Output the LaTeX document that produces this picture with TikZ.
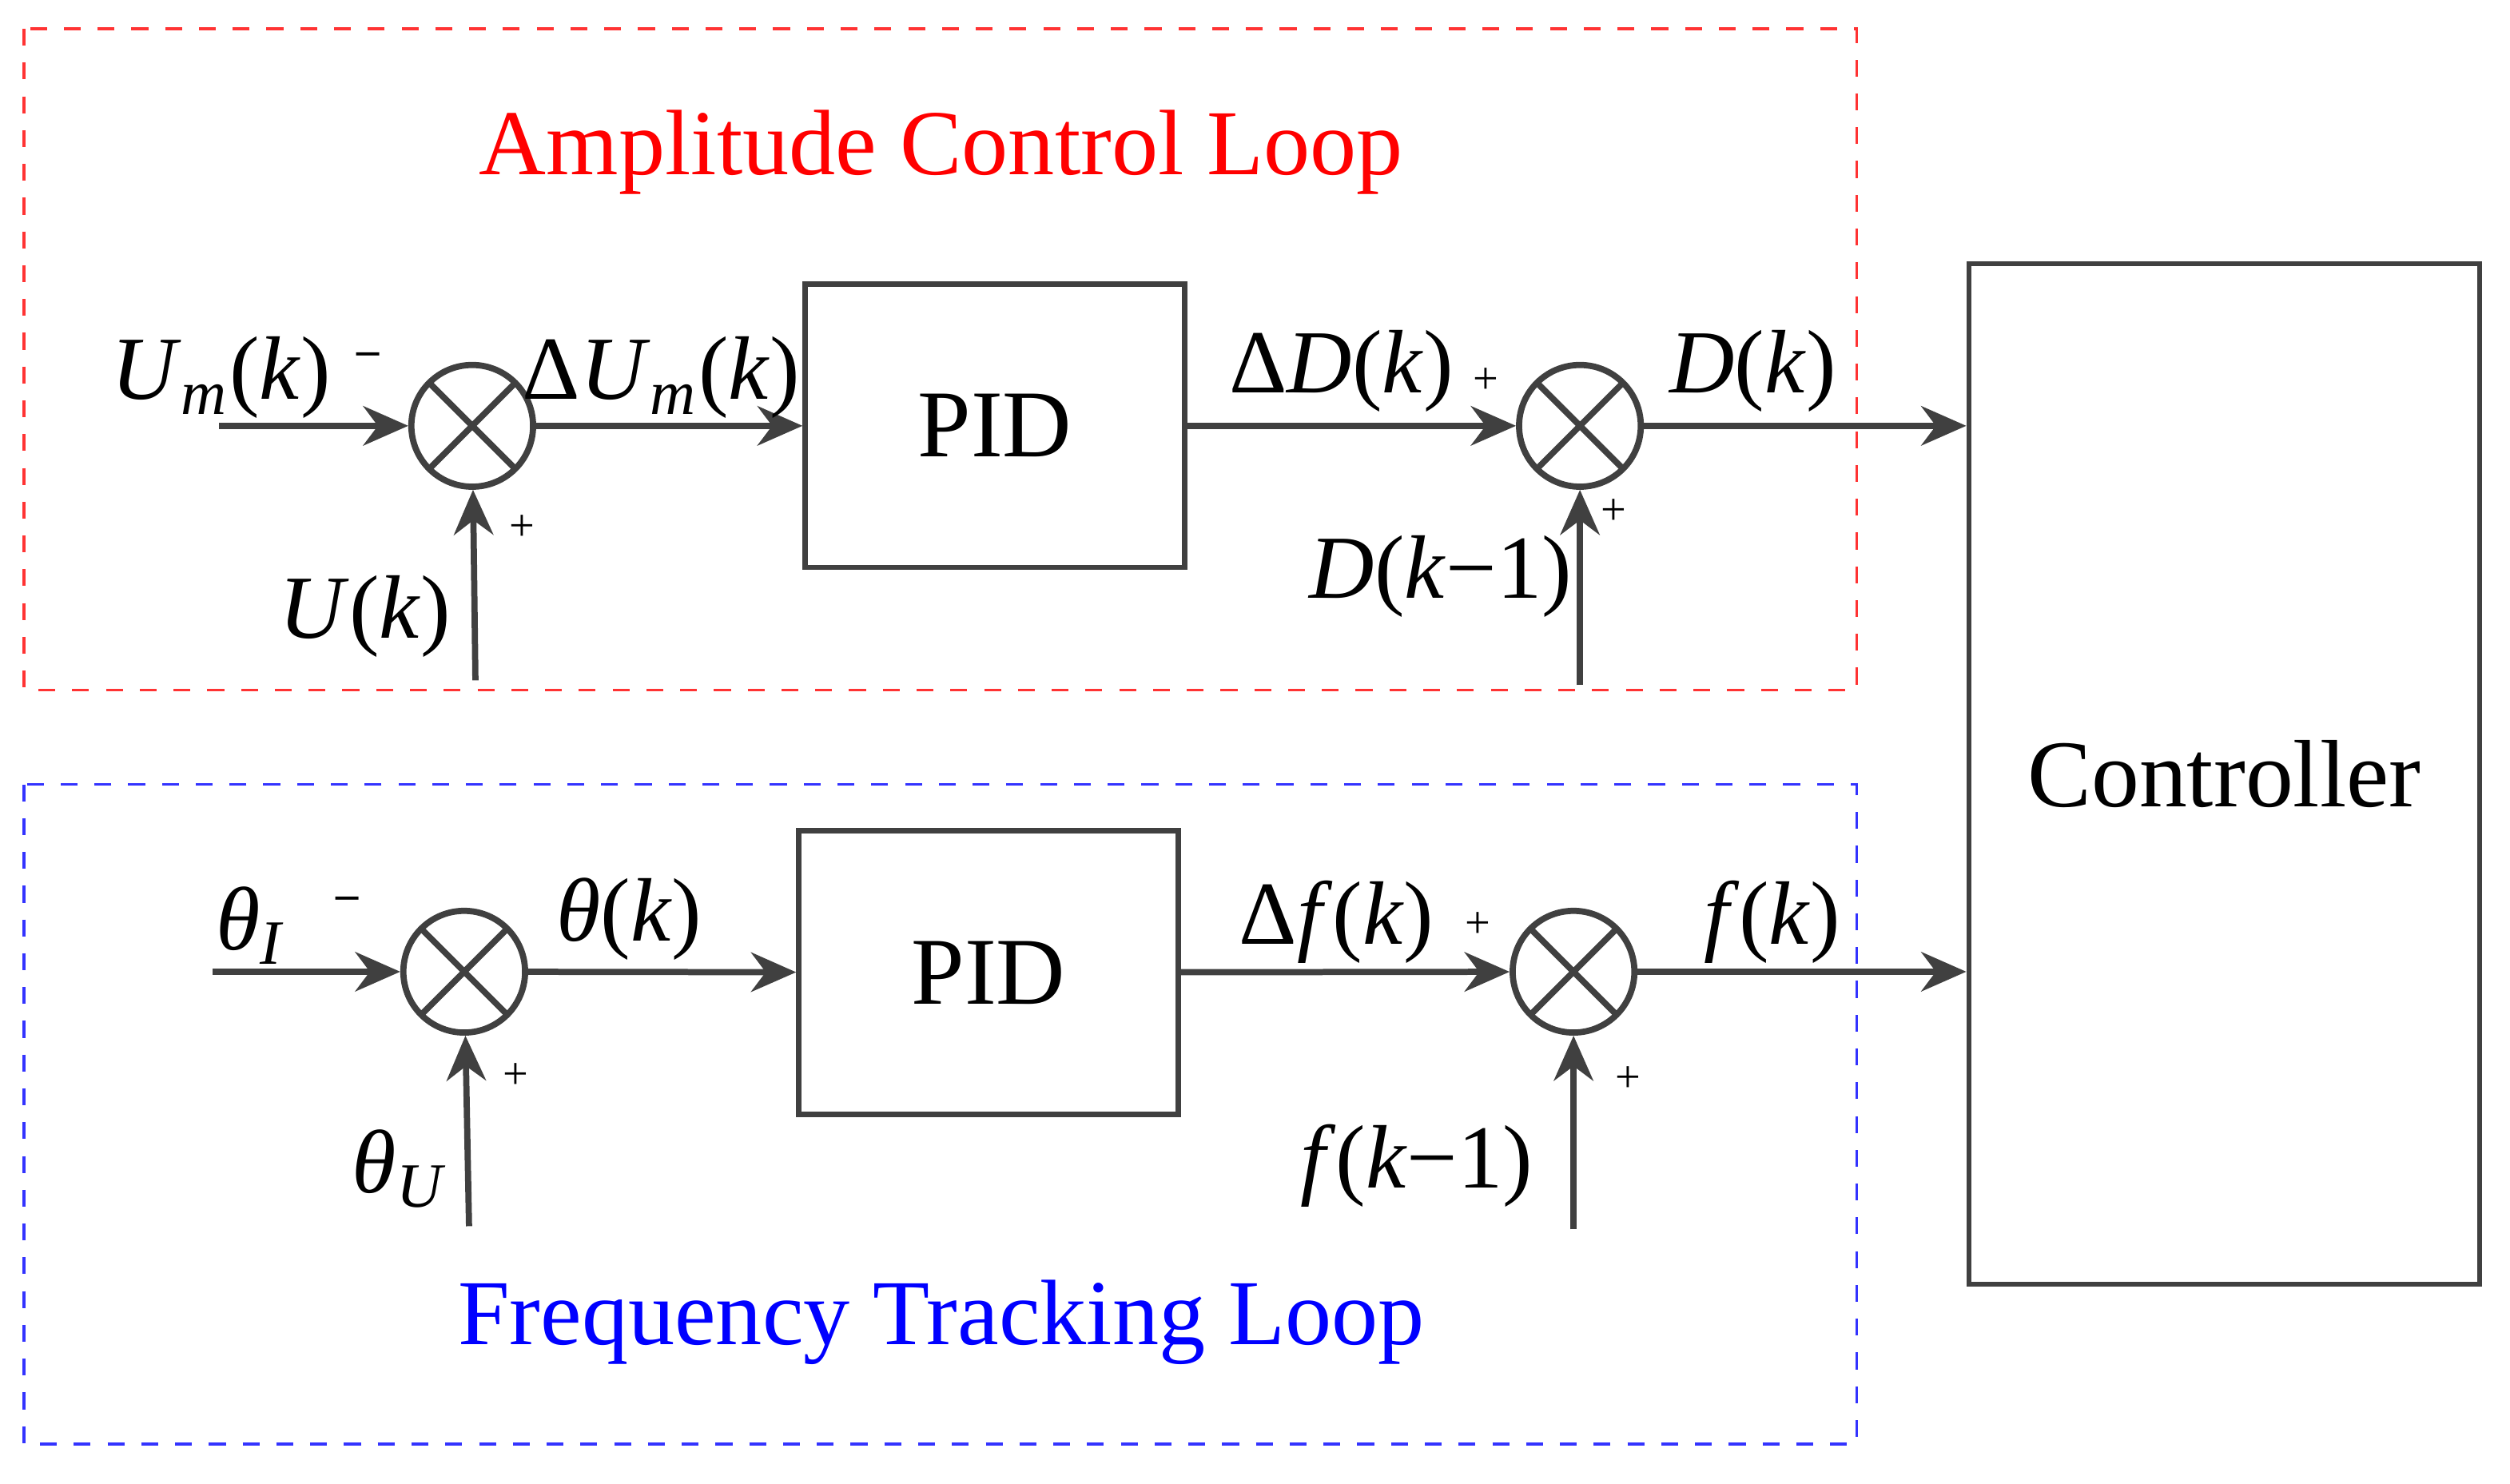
\documentclass[tikz,border=0pt]{standalone}
\usepackage{fontspec}
\setmainfont{Liberation Serif}
\usetikzlibrary{arrows.meta}
\definecolor{ln}{HTML}{404040}
\begin{document}
\begin{tikzpicture}[x=0.01cm,y=-0.01cm,
  sig/.style={draw=ln, line width=1.1pt, -{Stealth[length=8pt,width=7pt]}},
  blk/.style={draw=ln, line width=0.9pt, minimum width=2.37cm, minimum height=1.77cm, font=\fontsize{17}{17}\selectfont},
  sum/.style={circle, draw=ln, line width=1.1pt, minimum size=0.76cm, inner sep=0pt,
    path picture={\draw[ln, line width=1.1pt] (path picture bounding box.south west)--(path picture bounding box.north east)
      (path picture bounding box.north west)--(path picture bounding box.south east);}},
  lab/.style={font=\fontsize{16}{16}\selectfont},
  pm/.style={font=\fontsize{8}{8}\selectfont}]
\useasboundingbox (0,0) rectangle (1568,927);
\draw[red!80, dashed, line width=0.5pt] (15,18) rectangle (1160,431);
\draw[blue!80, dashed, line width=0.5pt] (15,490) rectangle (1160,902);
\node[text=red, font=\fontsize{16.5}{16.5}\selectfont] (t1) at (588,95) {Amplitude Control Loop};
\node[text=blue, font=\fontsize{16.5}{16.5}\selectfont] (t2) at (588,826) {Frequency Tracking Loop};
\node[draw=ln, line width=0.9pt, minimum width=3.19cm, minimum height=6.37cm, font=\fontsize{17}{17}\selectfont] (ctl) at (1389.5,483.5) {Controller};
% amplitude loop
\node[blk] (pid1) at (621.5,266) {PID};
\node[sum] (s1) at (295,266) {};
\node[sum] (s2) at (987,266) {};
\coordinate (in1) at (137,266);
\coordinate (u1) at (297,425);
\coordinate (d1) at (987,428);
\draw[sig] (in1) -- (s1);
\draw[sig] (u1) -- (s1);
\draw[sig] (s1) -- (pid1);
\draw[sig] (pid1) -- (s2);
\draw[sig] (d1) -- (s2);
\draw[sig] (s2) -- (s2 -| ctl.west);
\node[lab] at (138,236) {\textit{U}\textsubscript{\textit{m}}(\textit{k})};
\node[pm] at (230,224) {\textbf{--}};
\node[pm] at (326,330) {+};
\node[lab] at (228,385) {\textit{U}(\textit{k})};
\node[lab] at (413,236) {Δ\textit{U}\textsubscript{\textit{m}}(\textit{k})};
\node[lab] at (838,232) {Δ\textit{D}(\textit{k})};
\node[pm] at (928,238) {+};
\node[lab] at (1095,232) {\textit{D}(\textit{k})};
\node[pm] at (1008,320) {+};
\node[lab] at (900,360) {\textit{D}(\textit{k}−1)};
% frequency loop
\node[blk] (pid2) at (617.5,607.5) {PID};
\node[sum] (s3) at (290,607) {};
\node[sum] (s4) at (983,607) {};
\coordinate (in2) at (133,607);
\coordinate (u2) at (293,766);
\coordinate (d2) at (983,768);
\draw[sig] (in2) -- (s3);
\draw[sig] (u2) -- (s3);
\draw[sig] (s3) -- (pid2);
\draw[sig] (pid2) -- (s4);
\draw[sig] (d2) -- (s4);
\draw[sig] (s4) -- (s4 -| ctl.west);
\node[lab] at (157,578) {\textit{θ}\textsubscript{\textit{I}}};
\node[pm] at (217,564) {\textbf{--}};
\node[pm] at (322,672) {+};
\node[lab] at (250,730) {\textit{θ}\textsubscript{\textit{U}}};
\node[lab] at (393,574) {\textit{θ}(\textit{k})};
\node[lab] at (835,576) {Δ\textit{f}(\textit{k})};
\node[pm] at (923,578) {+};
\node[lab] at (1107,576) {\textit{f}(\textit{k})};
\node[pm] at (1017,674) {+};
\node[lab] at (885,728) {\textit{f}(\textit{k}−1)};
\end{tikzpicture}
\end{document}
